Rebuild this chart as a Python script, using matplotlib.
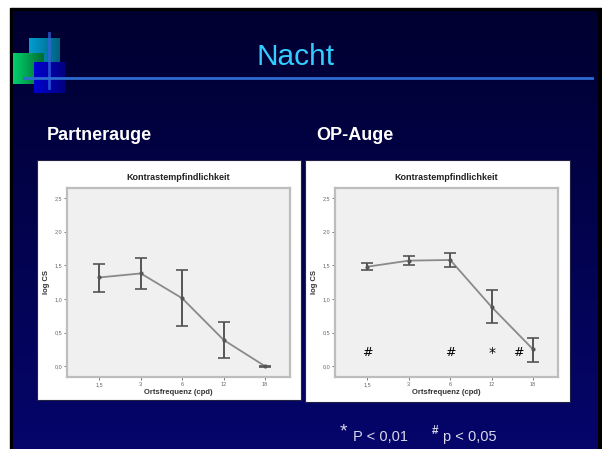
import numpy as np
import matplotlib.pyplot as plt
from matplotlib.patches import Rectangle

plt.rcParams["font.family"] = ["Liberation Sans", "DejaVu Sans"]

# Daten
freq_labels = ["1,5", "3", "6", "12", "18"]
partner_mean = [1.32, 1.38, 1.01, 0.39, 0.0]
partner_low = [1.11, 1.15, 0.60, 0.12, -0.01]
partner_high = [1.52, 1.61, 1.43, 0.66, 0.01]
op_mean = [1.48, 1.57, 1.58, 0.88, 0.25]
op_low = [1.43, 1.50, 1.48, 0.64, 0.07]
op_high = [1.53, 1.64, 1.68, 1.13, 0.42]
# Signifikanz-Markierungen: (x-Position, Zeichen)
op_marks = [(0, "#"), (2, "#"), (3, "*"), (3.65, "#")]
yticks = [0.0, 0.5, 1.0, 1.5, 2.0, 2.5]

W, H = 602, 449
fig = plt.figure(figsize=(W / 100, H / 100), dpi=100)
fig.patch.set_facecolor("white")

# Hintergrund der Folie in Pixel-Koordinaten
bg = fig.add_axes([0, 0, 1, 1])
bg.axis("off")

bg.add_patch(Rectangle((10, 8), 592, 441, color="black", zorder=0))
grad = np.linspace(0, 1, 256).reshape(-1, 1)
top = np.array([0.0, 0.0, 0.19])
bot = np.array([0.02, 0.02, 0.42])
img = top + (bot - top) * grad[..., None]
bg.imshow(img, extent=(13, 598, 449, 11), aspect="auto", zorder=1)


def grad_square(x, y, s, c1, c2):
    g = np.linspace(0, 1, 64).reshape(1, -1)
    c1 = np.array(c1)
    c2 = np.array(c2)
    im = c1 + (c2 - c1) * g[..., None]
    bg.imshow(im, extent=(x, x + s, y + s, y), aspect="auto", zorder=2)


grad_square(29, 38, 31, (0.0, 0.62, 0.82), (0.0, 0.38, 0.5))
grad_square(13, 53, 31, (0.0, 0.82, 0.42), (0.0, 0.42, 0.2))
grad_square(34, 62, 31, (0.0, 0.0, 0.82), (0.0, 0.0, 0.5))
bg.plot([49, 49], [33, 88], color="#3366dd", lw=2, alpha=0.75, zorder=3)
bg.plot([24, 592], [78, 78], color="#2e6bd0", lw=2, zorder=3)
bg.set_xlim(0, W)
bg.set_ylim(H, 0)

bg.text(296, 57, "Nacht", color="#33ccff", fontsize=21.5, ha="center", va="center", zorder=4)
bg.text(47, 135, "Partnerauge", color="white", fontsize=13, fontweight="bold", va="center")
bg.text(316, 135, "OP-Auge", color="white", fontsize=13, fontweight="bold", va="center")

# weiße Kästen hinter den Diagrammen
bg.add_patch(Rectangle((37, 160), 264, 240, facecolor="white", edgecolor="#222244", lw=0.8, zorder=2))
bg.add_patch(Rectangle((305, 160), 265, 242, facecolor="white", edgecolor="#222244", lw=0.8, zorder=2))

# Fußnote
bg.text(340, 432, "*", color="#d8d8e8", fontsize=14, va="center")
bg.text(353, 437, "P < 0,01", color="#d8d8e8", fontsize=10.5, va="center")
bg.text(432, 431, "#", color="#d8d8e8", fontsize=8.5, va="center", fontweight="bold")
bg.text(443, 437, "p < 0,05", color="#d8d8e8", fontsize=10.5, va="center")


def chart(left_px, mean, low, high, marks):
    ax = fig.add_axes([left_px / W, (H - 377) / H, 223 / W, 189 / H])
    ax.set_facecolor("#f0f0f0")
    x = np.arange(len(mean))
    m = np.array(mean)
    err = [m - np.array(low), np.array(high) - m]
    ax.plot(x, m, color="#8a8a8a", lw=1.3, zorder=2)
    ax.errorbar(x, m, yerr=err, fmt="o", ms=2, color="#555555", ecolor="#555555",
                elinewidth=1.4, capsize=4, capthick=1.2, zorder=3)
    for xm, s in marks:
        ax.text(xm, 0.2, s, fontsize=10 if s == "*" else 9, ha="center", va="center",
                color="black", family="DejaVu Sans")
    ax.set_xlim(-0.78, 4.6)
    ax.set_ylim(-0.16, 2.65)
    ax.set_xticks(x)
    ax.set_xticklabels(freq_labels)
    ax.set_yticks(yticks)
    ax.set_yticklabels([f"{t:.1f}".replace(".", ",") for t in yticks])
    ax.tick_params(labelsize=4, colors="#666666", length=2, width=0.6, pad=1.5)
    for sp in ax.spines.values():
        sp.set_color("#bdbdbd")
        sp.set_linewidth(1.6)
    ax.set_title("Kontrastempfindlichkeit", fontsize=6.5, fontweight="bold", pad=6, color="#222222")
    ax.set_xlabel("Ortsfrequenz (cpd)", fontsize=5.5, fontweight="bold", labelpad=1.5, color="#333333")
    ax.set_ylabel("log CS", fontsize=5.5, fontweight="bold", labelpad=3, color="#333333")
    return ax


chart(67, partner_mean, partner_low, partner_high, [])
chart(335, op_mean, op_low, op_high, op_marks)

fig.savefig("out.png", dpi=100)
